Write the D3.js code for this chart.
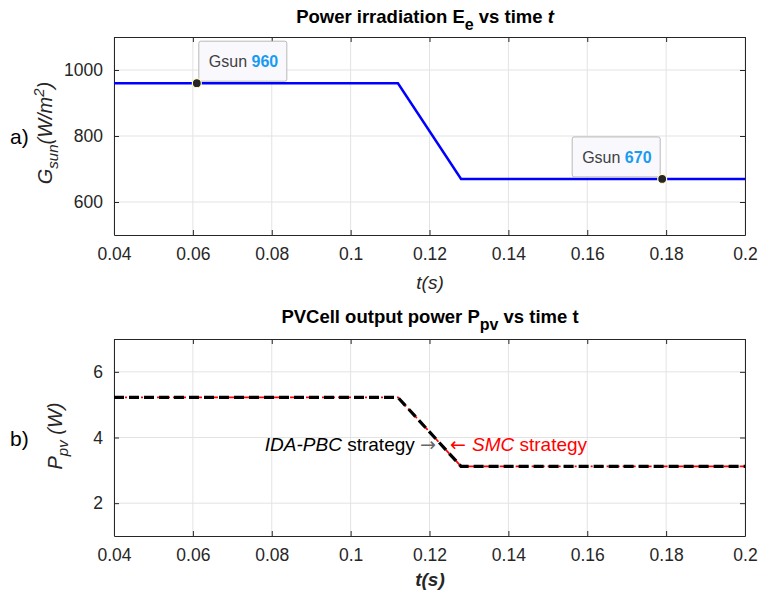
<!DOCTYPE html>
<html>
<head>
<meta charset="utf-8">
<script src="https://cdn.jsdelivr.net/npm/d3@7"></script>
<style>
  body { margin: 0; background: #fff; }
  svg text { font-family: "Liberation Sans", Arial, sans-serif; }
</style>
</head>
<body>
<div id="chart"></div>
<script>
// data
var tGsun = [0.04, 0.112, 0.128, 0.2];
var gsun = [960, 960, 670, 670];
var tipT = [0.061, 0.179];
var tipG = [960, 670];

var tIda = [0.04, 0.112, 0.128, 0.2];
var pIda = [5.22, 5.22, 3.12, 3.12];
var tSmc = [0.04, 0.112, 0.128, 0.2];
var pSmc = [5.22, 5.22, 3.12, 3.12];

var xTicks = [0.04, 0.06, 0.08, 0.1, 0.12, 0.14, 0.16, 0.18, 0.2];
var yTicksTop = [600, 800, 1000];
var yTicksBot = [2, 4, 6];

var svgWidth = 758, svgHeight = 590;
var left = 114, right = 745;

var svg = d3.select("#chart").append("svg")
    .attr("width", svgWidth)
    .attr("height", svgHeight);

var x = d3.scaleLinear().domain([0.04, 0.2]).range([left, right]);
var yTop = d3.scaleLinear().domain([500, 1100]).range([235, 37]);
var yBot = d3.scaleLinear().domain([1, 7]).range([536, 339]);

function drawAxes(y, yTicks) {
    var g = svg.append("g");
    var y0 = y.range()[0], y1 = y.range()[1];
    // grid
    g.selectAll(".gx").data(xTicks).enter().append("line")
        .attr("x1", d => x(d)).attr("x2", d => x(d))
        .attr("y1", y0).attr("y2", y1)
        .attr("stroke", "#e3e3e3").attr("stroke-width", 1);
    g.selectAll(".gy").data(yTicks).enter().append("line")
        .attr("x1", left).attr("x2", right)
        .attr("y1", d => y(d)).attr("y2", d => y(d))
        .attr("stroke", "#e3e3e3").attr("stroke-width", 1);

    var bottomAxis = d3.axisBottom(x).tickValues(xTicks)
        .tickSizeInner(-5).tickSizeOuter(0).tickPadding(13)
        .tickFormat(d => d3.format("~g")(+d.toFixed(2)));
    var ax = svg.append("g").attr("transform", `translate(0, ${y0})`).call(bottomAxis);
    var topAxis = d3.axisTop(x).tickValues(xTicks).tickSizeInner(-5).tickSizeOuter(0).tickFormat("");
    var at = svg.append("g").attr("transform", `translate(0, ${y1})`).call(topAxis);
    var leftAxis = d3.axisLeft(y).tickValues(yTicks)
        .tickSizeInner(-5).tickSizeOuter(0).tickPadding(11)
        .tickFormat(d3.format("d"));
    var al = svg.append("g").attr("transform", `translate(${left}, 0)`).call(leftAxis);
    var rightAxis = d3.axisRight(y).tickValues(yTicks).tickSizeInner(-5).tickSizeOuter(0).tickFormat("");
    var ar = svg.append("g").attr("transform", `translate(${right}, 0)`).call(rightAxis);

    [ax, at, al, ar].forEach(function(a) {
        a.selectAll("path").attr("stroke", "#262626").attr("stroke-width", 1);
        a.selectAll("line").attr("stroke", "#262626");
        a.selectAll("text").attr("fill", "#262626")
            .style("font-size", "17.5px")
            .style("font-family", "'Liberation Sans', Arial, sans-serif");
    });
}

drawAxes(yTop, yTicksTop);
drawAxes(yBot, yTicksBot);

// top plot line
var lineTop = d3.line().x((d, i) => x(tGsun[i])).y(d => yTop(d));
svg.append("path").datum(gsun)
    .attr("d", lineTop)
    .attr("fill", "none")
    .attr("stroke", "#0000ff")
    .attr("stroke-width", 2.5);

// datatips
tipT.forEach(function(t, i) {
    var px = x(t), py = yTop(tipG[i]);
    var bx = i === 0 ? px + 2 : px - 90, by = py - 42;
    svg.append("rect")
        .attr("x", bx).attr("y", by)
        .attr("width", 88).attr("height", 40)
        .attr("rx", 2)
        .attr("fill", "#f9f9fd")
        .attr("stroke", "#b8b8b8");
    var tx = svg.append("text")
        .attr("x", bx + 10).attr("y", by + 26)
        .style("font-size", "16px");
    tx.append("tspan").attr("fill", "#404040").text("Gsun ");
    tx.append("tspan").attr("fill", "#1a9bf2").attr("font-weight", "bold").text(tipG[i]);
    svg.append("circle")
        .attr("cx", px).attr("cy", py).attr("r", 4.5)
        .attr("fill", "#262626")
        .attr("stroke", "#fffbc8").attr("stroke-width", 1.2);
});

// bottom plot lines: red dash-dot under black dashes
var lineIda = d3.line().x((d, i) => x(tIda[i])).y(d => yBot(d));
var lineSmc = d3.line().x((d, i) => x(tSmc[i])).y(d => yBot(d));
svg.append("path").datum(pSmc)
    .attr("d", lineSmc)
    .attr("fill", "none")
    .attr("stroke", "#ff0000")
    .attr("stroke-width", 1.8)
    .attr("stroke-dasharray", "8,3,2,3");
svg.append("path").datum(pIda)
    .attr("d", lineIda)
    .attr("fill", "none")
    .attr("stroke", "#000")
    .attr("stroke-width", 3.2)
    .attr("stroke-dasharray", "10,5");

// titles
var t1 = svg.append("text")
    .attr("x", 425).attr("y", 23)
    .attr("text-anchor", "middle")
    .attr("font-weight", "bold")
    .style("font-size", "18.5px")
    .attr("fill", "#000");
t1.append("tspan").text("Power irradiation E");
t1.append("tspan").attr("dy", 7).style("font-size", "16px").text("e");
t1.append("tspan").attr("dy", -7).text(" vs time ");
t1.append("tspan").attr("font-style", "italic").text("t");

var t2 = svg.append("text")
    .attr("x", 430).attr("y", 323)
    .attr("text-anchor", "middle")
    .attr("font-weight", "bold")
    .style("font-size", "18.5px")
    .attr("fill", "#000");
t2.append("tspan").text("PVCell output power P");
t2.append("tspan").attr("dy", 7).style("font-size", "16px").text("pv");
t2.append("tspan").attr("dy", -7).text(" vs time t");

// x labels
svg.append("text")
    .attr("x", 430).attr("y", 289)
    .attr("text-anchor", "middle")
    .attr("font-style", "italic")
    .style("font-size", "19px")
    .attr("fill", "#262626")
    .text("t(s)");
svg.append("text")
    .attr("x", 430).attr("y", 586)
    .attr("text-anchor", "middle")
    .attr("font-style", "italic")
    .attr("font-weight", "bold")
    .style("font-size", "19px")
    .attr("fill", "#262626")
    .text("t(s)");

// y labels
var yl1 = svg.append("text")
    .attr("transform", "translate(52, 133) rotate(-90)")
    .attr("text-anchor", "middle")
    .attr("font-style", "italic")
    .style("font-size", "20px")
    .attr("fill", "#262626");
yl1.append("tspan").text("G");
yl1.append("tspan").attr("dy", 6).style("font-size", "15px").text("sun");
yl1.append("tspan").attr("dy", -6).text("(W/m");
yl1.append("tspan").attr("dy", -8).style("font-size", "15px").text("2");
yl1.append("tspan").attr("dy", 8).text(")");

var yl2 = svg.append("text")
    .attr("transform", "translate(62, 436) rotate(-90)")
    .attr("text-anchor", "middle")
    .attr("font-style", "italic")
    .style("font-size", "20px")
    .attr("fill", "#262626");
yl2.append("tspan").text("P");
yl2.append("tspan").attr("dy", 6).style("font-size", "15px").text("pv");
yl2.append("tspan").attr("dy", -6).text(" (W)");

// panel letters
svg.append("text").attr("x", 10).attr("y", 144)
    .style("font-size", "21px").attr("fill", "#000").text("a)");
svg.append("text").attr("x", 10).attr("y", 446)
    .style("font-size", "21px").attr("fill", "#000").text("b)");

// annotations
var a1 = svg.append("text")
    .attr("x", 436).attr("y", 451)
    .attr("text-anchor", "end")
    .style("font-size", "19px")
    .attr("fill", "#000");
a1.append("tspan").attr("font-style", "italic").text("IDA-PBC");
a1.append("tspan").text(" strategy ");
a1.append("tspan").attr("fill", "#666").style("font-family", "'DejaVu Sans', sans-serif").text("→");

var a2 = svg.append("text")
    .attr("x", 450).attr("y", 451)
    .style("font-size", "19px")
    .attr("fill", "#ff0000");
a2.append("tspan").style("font-family", "'DejaVu Sans', sans-serif").text("← ");
a2.append("tspan").attr("font-style", "italic").text("SMC");
a2.append("tspan").text(" strategy");
</script>
</body>
</html>
